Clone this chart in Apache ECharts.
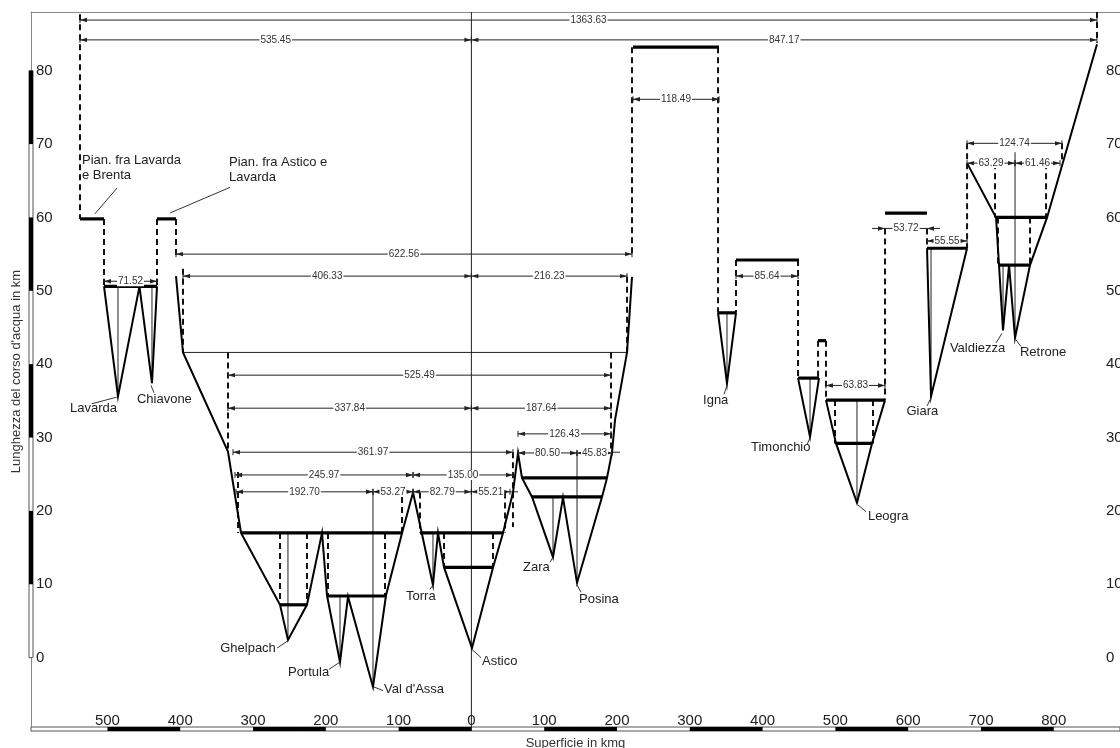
<!DOCTYPE html>
<html><head><meta charset="utf-8">
<script src="https://cdn.jsdelivr.net/npm/echarts@6/dist/echarts.min.js"></script>
<style>html,body{margin:0;padding:0;background:#fff}#c{width:1120px;height:748px}</style>
</head><body><div id="c"></div>
<script>
const FONT = '"Liberation Sans", Arial, sans-serif';

// axis ticks (left half of the x axis is mirrored: negative values shown as absolute)
const xTicks = [-500,-400,-300,-200,-100,0,100,200,300,400,500,600,700,800];
const yTicks = [0,10,20,30,40,50,60,70,80];
const xBarBlack = [[-500,-400],[-300,-200],[-100,0],[100,200],[300,400],[500,600],[700,800]];
const yBarBlack = [[10,20],[30,40],[50,60],[70,80]];

// basin outlines [superficie, lunghezza]
const outlines = [
  [[-504.7,50.6],[-485.5,35.6],[-456,50.6],[-438.8,37.4],[-431.9,50.6]],
  [[-405.8,52.0],[-396.2,41.6],[-334.4,28.1],[-327.5,23.8],[-316.5,17.0],[-262.9,7.2],[-252.0,2.4],[-225.9,7.2],[-205.2,17.0],[-198.4,8.5],[-180.5,-0.6],[-169.5,8.3],[-135.2,-4.0],[-117.3,8.5],[-95.3,17.0],[-80.2,22.5],[-52.8,9.9],[-45.9,17.0],[-37.6,12.3],[0.8,1.3],[29.7,12.3],[43.4,17.0],[57.1,22.5],[64.0,27.9],[69.5,24.5],[83.3,21.9],[112.1,13.7],[125.8,21.8],[145.1,10.2],[179.4,21.9],[186.3,24.5],[193.2,28.0],[197.3,32.4],[213.8,41.6],[220.6,51.9]],
  [[338.8,47.0],[351.1,37.4],[363.5,47.0]],
  [[448.7,38.1],[465.2,30.1],[477.5,38.1]],
  [[487.1,35.1],[500.9,29.2],[529.7,21.1],[550.3,29.2],[568.2,35.1]],
  [[625.9,55.8],[631.4,35.6],[680.9,55.8]],
  [[680.9,67.4],[720.7,60.0],[724.8,53.5],[730.3,44.6],[738.6,53.5],[746.8,43.6],[767.4,53.5],[790.8,60.0],[859.4,83.6]]
];

// thick horizontal levels [x1, x2, y]
const thickSegs = [
  [-537.7,-504.7,59.8],[-431.9,-405.8,59.8],[-504.7,-431.9,50.6],
  [-316.5,-95.3,17.0],[-70.6,43.4,17.0],[-261.6,-225.9,7.2],[-198.4,-117.3,8.4],
  [-37.6,29.7,12.3],[69.5,186.3,24.5],[83.3,179.4,21.9],
  [222.0,340.2,83.2],[338.8,363.5,47.0],[363.5,450.0,54.2],[448.7,477.5,38.1],
  [476.2,487.1,43.2],[487.1,568.2,35.1],[500.9,550.3,29.2],[568.2,625.9,60.6],
  [625.9,680.9,55.8],[720.7,790.8,60.0],[724.8,767.4,53.5]
];

// thin lines
const thinLines = [
  [[0,-10],[0,88]],
  [[-396.2,41.6],[213.8,41.6]],
  [[-485.5,50.6],[-485.5,35.6]],
  [[-438.8,50.6],[-438.8,37.4]],
  [[-252.0,17.0],[-252.0,2.4]],
  [[-180.5,8.4],[-180.5,-0.6]],
  [[-135.2,22.6],[-135.2,-4.0]],
  [[-52.8,17.0],[-52.8,9.9]],
  [[112.1,21.9],[112.1,13.7]],
  [[145.1,28.0],[145.1,10.2]],
  [[351.1,47.0],[351.1,37.4]],
  [[465.2,38.1],[465.2,30.1]],
  [[529.7,35.1],[529.7,21.1]],
  [[631.4,55.8],[631.4,35.6]],
  [[730.3,53.5],[730.3,44.6]],
  [[746.8,68.9],[746.8,43.6]],
  [[193.2,28.0],[204.1,28.0]],
  [[53.0,22.6],[64.0,22.6]]
];

// dashed verticals [x, y1, y2]
const dashedLines = [
  [-537.7,87.7,59.8],[859.4,88,83.8],[-504.7,59.8,50.6],[-431.9,59.8,50.6],
  [-405.8,59.8,54.7],[-396.2,53.0,41.6],[-334.4,41.6,28.1],[-320.6,25.3,17.0],
  [-262.9,17.0,7.2],[-225.9,17.0,7.2],[-197.0,17.0,8.4],[-118.7,17.0,8.4],
  [-95.3,21.9,17.0],[-70.6,22.5,17.0],[-37.6,17.0,12.3],[29.7,17.0,12.3],
  [46.2,22.5,17.0],[57.1,28.0,17.8],[191.8,41.6,28.0],[213.8,51.9,41.6],
  [220.6,83.2,55.1],[338.8,83.2,47.0],[363.5,54.2,47.0],[448.7,54.2,38.1],
  [476.2,43.2,38.1],[487.1,43.2,35.1],[499.5,35.1,29.2],[551.7,35.1,29.2],
  [568.2,58.5,35.1],[625.9,58.5,55.8],[680.9,70.1,55.8],[811.3,70.1,67.4],
  [719.3,67.4,60.0],[789.4,67.4,60.0],[723.4,60.0,53.5],[767.4,60.0,53.5]
];

// dimension lines [x1, x2, y, label, mode]
const dims = [
  [-537.7,859.4,86.9,'1363.63'],[-537.7,0,84.2,'535.45'],[0,859.4,84.2,'847.17'],
  [222.0,340.2,76.1,'118.49'],[680.9,811.3,70.1,'124.74'],[680.9,746.8,67.4,'63.29'],
  [746.8,808.6,67.4,'61.46'],[568.2,625.9,58.5,'53.72','out'],[625.9,680.9,56.8,'55.55'],
  [-405.8,220.6,55.0,'622.56'],[-396.2,0,52.0,'406.33'],[0,213.8,52.0,'216.23'],
  [-504.7,-431.9,51.3,'71.52'],[363.5,448.7,52.0,'85.64'],[-334.4,191.8,38.5,'525.49'],
  [-334.4,0,34.0,'337.84'],[0,191.8,34.0,'187.64'],[487.1,568.2,37.1,'63.83'],
  [64.0,191.8,30.5,'126.43'],[-327.5,57.1,28.0,'361.97'],[64.0,145.1,27.9,'80.50'],
  [145.1,193.2,27.9,'45.83'],[-324.8,-80.2,24.9,'245.97'],[-80.2,57.1,24.9,'135.00'],
  [-323.4,-135.2,22.6,'192.70'],[-135.2,-80.2,22.6,'53.27'],[-80.2,0,22.6,'82.79'],
  [0,53.0,22.6,'55.21']
];

// basin names [text, x, y, leader]
const names = [
  ['Pian. fra Lavarda\ne Brenta', -535.0, 66.7, [[-486.9,64.0],[-517.1,60.5]]],
  ['Pian. fra Astico e\nLavarda', -333.0, 66.5, [[-331.6,64.1],[-414.1,60.6]]],
  ['Lavarda', -551.4, 33.9, [[-521.6,34.6],[-487.3,35.5]]],
  ['Chiavone', -459.5, 35.2, [[-440.1,37.1],[-436.0,36.1]]],
  ['Ghelpach', -345.1, 1.3, [[-267.0,1.3],[-252.0,2.3]]],
  ['Portula', -252.0, -2.0, [[-195.6,-1.6],[-180.5,-0.6]]],
  ["Val d'Assa", -120.1, -4.4, [[-133.8,-4.0],[-121.4,-4.5]]],
  ['Torra', -89.8, 8.4, [[-56.9,9.3],[-52.8,9.9]]],
  ['Astico', 14.6, -0.5, [[2.2,1.0],[13.2,0.0]]],
  ['Zara', 70.9, 12.3, [[108.0,13.0],[112.1,13.7]]],
  ['Posina', 147.8, 8.0, [[145.1,9.9],[150.6,8.9]]],
  ['Igna', 318.2, 35.1, [[351.1,37.1],[347.0,35.9]]],
  ['Timonchio', 384.1, 28.6, [[465.2,30.0],[461.0,29.0]]],
  ['Leogra', 544.7, 19.3, [[531.1,20.8],[542.1,19.9]]],
  ['Giara', 597.6, 33.5, [[631.4,35.4],[625.9,34.3]]],
  ['Valdiezza', 657.3, 42.2, [[728.9,44.2],[720.7,42.9]]],
  ['Retrone', 753.5, 41.6, [[748.2,43.3],[755.0,42.4]]]
];

const chart = echarts.init(document.getElementById('c'), null, {renderer: 'canvas'});

function seg(a, b, stroke, w, dash) {
  return {type: 'line', shape: {x1: a[0], y1: a[1], x2: b[0], y2: b[1]},
          style: {stroke: stroke, lineWidth: w, lineDash: dash || null}};
}
function arrowHead(x, y, dir) {
  const L = 7, W = 2.2;
  return {type: 'polygon', shape: {points: [[x, y], [x - dir * L, y - W], [x - dir * L, y + W]]},
          style: {fill: '#222'}};
}
function custom(arr, render) {
  return {type: 'custom', coordinateSystem: 'cartesian2d', silent: true, clip: false,
          data: arr.map(() => [0, 0]), renderItem: render, animation: false};
}

const series = [
  custom([0], (params, api) => {
    const cs = params.coordSys;
    const ch = [];
    const bottom = cs.y + cs.height;
    ch.push({type: 'rect', shape: {x: cs.x, y: bottom - 4, width: cs.width, height: 4},
             style: {fill: '#fff', stroke: '#555', lineWidth: 1}});
    xBarBlack.forEach(([a, b]) => {
      const pa = api.coord([a, 0])[0], pb = api.coord([b, 0])[0];
      ch.push({type: 'rect', shape: {x: pa, y: bottom - 4, width: pb - pa, height: 4}, style: {fill: '#000'}});
    });
    const y0 = api.coord([0, 0])[1], y80 = api.coord([0, 80])[1];
    ch.push({type: 'rect', shape: {x: cs.x - 2, y: y80, width: 4, height: y0 - y80},
             style: {fill: '#fff', stroke: '#555', lineWidth: 1}});
    yBarBlack.forEach(([a, b]) => {
      const pa = api.coord([0, a])[1], pb = api.coord([0, b])[1];
      ch.push({type: 'rect', shape: {x: cs.x - 2, y: pb, width: 4, height: pa - pb}, style: {fill: '#000'}});
    });
    return {type: 'group', children: ch};
  }),
  custom(thinLines, (params, api) => {
    const l = thinLines[params.dataIndex];
    return seg(api.coord(l[0]), api.coord(l[1]), '#222', 1);
  }),
  custom(dashedLines, (params, api) => {
    const d = dashedLines[params.dataIndex];
    return seg(api.coord([d[0], d[1]]), api.coord([d[0], d[2]]), '#111', 2, [6, 4]);
  }),
  custom(outlines, (params, api) => {
    const pts = outlines[params.dataIndex].map(p => api.coord(p));
    return {type: 'polyline', shape: {points: pts}, style: {stroke: '#000', lineWidth: 2, fill: null}};
  }),
  custom(thickSegs, (params, api) => {
    const t = thickSegs[params.dataIndex];
    return seg(api.coord([t[0], t[2]]), api.coord([t[1], t[2]]), '#000', 3.2);
  }),
  custom(dims, (params, api) => {
    const [x1, x2, y, label, mode] = dims[params.dataIndex];
    const a = api.coord([x1, y]), b = api.coord([x2, y]);
    const ch = [];
    if (mode === 'out') {
      ch.push(seg([a[0] - 13, a[1]], [b[0] + 13, b[1]], '#222', 1));
      ch.push(arrowHead(a[0], a[1], 1));
      ch.push(arrowHead(b[0], b[1], -1));
    } else {
      ch.push(seg(a, b, '#222', 1));
      ch.push(arrowHead(a[0], a[1], -1));
      ch.push(arrowHead(b[0], b[1], 1));
      ch.push(seg([a[0], a[1] - 3], [a[0], a[1] + 3], '#222', 1));
      ch.push(seg([b[0], b[1] - 3], [b[0], b[1] + 3], '#222', 1));
    }
    ch.push({type: 'text', x: (a[0] + b[0]) / 2, y: a[1],
             style: {text: label, fill: '#333', font: '10px ' + FONT, align: 'center',
                     verticalAlign: 'middle', backgroundColor: '#fff', padding: [0, 1]}});
    return {type: 'group', children: ch};
  }),
  custom(names, (params, api) => {
    const [text, x, y, leader] = names[params.dataIndex];
    const p = api.coord([x, y]);
    return {type: 'group', children: [
      seg(api.coord(leader[0]), api.coord(leader[1]), '#333', 1),
      {type: 'text', x: p[0], y: p[1],
       style: {text: text, fill: '#222', font: '13px ' + FONT, align: 'left',
               verticalAlign: 'middle', lineHeight: 15}}
    ]};
  })
];

const labelStyle = {color: '#222', fontSize: 15, fontFamily: FONT};
chart.setOption({
  animation: false,
  backgroundColor: '#fff',
  grid: {left: 31, right: 0, top: 12, height: 719, outerBoundsMode: 'none', containLabel: false},
  xAxis: [
    {type: 'value', position: 'bottom', min: -605, max: 891,
     name: 'Superficie in kmq', nameLocation: 'middle', nameGap: 4,
     nameTextStyle: {color: '#333', fontSize: 13, fontFamily: FONT, verticalAlign: 'top'},
     axisLine: {show: false, onZero: false}, axisTick: {show: false}, splitLine: {show: false},
     axisLabel: Object.assign({inside: true, margin: 3, customValues: xTicks,
       formatter: v => String(Math.abs(v))}, labelStyle)},
    {type: 'value', position: 'top', min: -605, max: 891,
     axisLine: {show: true, onZero: false, lineStyle: {color: '#888', width: 1}}, axisTick: {show: false},
     splitLine: {show: false}, axisLabel: {show: false}}
  ],
  yAxis: [
    {type: 'value', position: 'left', min: -10, max: 88,
     name: "Lunghezza del corso d'acqua in km", nameLocation: 'middle', nameGap: 8,
     nameTextStyle: {color: '#333', fontSize: 13, fontFamily: FONT},
     axisLine: {show: true, onZero: false, lineStyle: {color: '#888', width: 1}}, axisTick: {show: false},
     splitLine: {show: false},
     axisLabel: Object.assign({inside: true, margin: 5, customValues: yTicks}, labelStyle)},
    {type: 'value', position: 'right', offset: -18, min: -10, max: 88,
     axisLine: {show: false, onZero: false}, axisTick: {show: false}, splitLine: {show: false},
     axisLabel: Object.assign({margin: 4, customValues: yTicks}, labelStyle)}
  ],
  series: series
});
</script></body></html>
